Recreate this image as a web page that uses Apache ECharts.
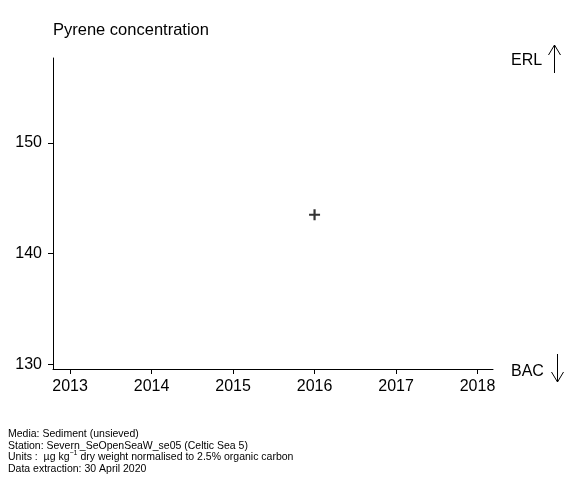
<!DOCTYPE html>
<html><head><meta charset="utf-8">
<script src="https://cdn.jsdelivr.net/npm/echarts@6/dist/echarts.min.js"></script>
<style>html,body{margin:0;padding:0;background:#fff}#c{width:580px;height:480px}</style>
</head><body><div id="c"></div>
<script>
const years = [2016];
const values = [143.5];
const xTicks = [2013, 2014, 2015, 2016, 2017, 2018];
const yTicks = [130, 140, 150];
const title = 'Pyrene concentration';
const footer = ['Media: Sediment (unsieved)', 'Station: Severn_SeOpenSeaW_se05 (Celtic Sea 5)', 'Data extraction: 30 April 2020'];

const chart = echarts.init(document.getElementById('c'), null, {renderer: 'canvas'});
const F = 'Liberation Sans, Arial, sans-serif';
const FF = '10.5px ' + F;
chart.setOption({
  animation: false,
  title: {text: title, left: 53, top: 22, padding: 0, textStyle: {fontFamily: F, fontSize: 16.5, fontWeight: 'normal', color: '#000'}},
  grid: {left: 53, right: 87, top: 58, bottom: 111, containLabel: false},
  xAxis: {
    type: 'value', min: 2012.79, max: 2018.19, interval: 1,
    axisLine: {show: true, onZero: false, lineStyle: {color: '#000', width: 1}},
    axisTick: {show: true, length: 5, lineStyle: {color: '#000'}, customValues: xTicks},
    axisLabel: {color: '#000', fontFamily: F, fontSize: 16, margin: 10, customValues: xTicks, formatter: v => String(v)},
    splitLine: {show: false}
  },
  yAxis: {
    type: 'value', min: 129.58, max: 157.65,
    axisLine: {show: true, onZero: false, lineStyle: {color: '#000', width: 1}},
    axisTick: {show: true, length: 5, lineStyle: {color: '#000'}, customValues: yTicks},
    axisLabel: {color: '#000', fontFamily: F, fontSize: 16, margin: 11, customValues: yTicks, formatter: v => String(v)},
    splitLine: {show: false}
  },
  series: [{
    type: 'scatter',
    data: years.map((y, i) => [y, values[i]]),
    symbol: 'path://M4,0 L6,0 L6,4 L10,4 L10,6 L6,6 L6,10 L4,10 L4,6 L0,6 L0,4 L4,4 Z',
    symbolSize: 11,
    itemStyle: {color: '#000'}
  }],
  graphic: [
    {type: 'text', left: 511, top: 53, style: {text: 'ERL', font: '16px ' + F, fill: '#000'}},
    {type: 'line', shape: {x1: 554.5, y1: 45, x2: 554.5, y2: 73}, style: {stroke: '#000', lineWidth: 1}},
    {type: 'polyline', shape: {points: [[548.5, 55], [554.5, 45], [560.5, 55]]}, style: {stroke: '#000', lineWidth: 1, fill: null}},
    {type: 'text', left: 511, top: 364, style: {text: 'BAC', font: '16px ' + F, fill: '#000'}},
    {type: 'line', shape: {x1: 557.5, y1: 354, x2: 557.5, y2: 382}, style: {stroke: '#000', lineWidth: 1}},
    {type: 'polyline', shape: {points: [[551.5, 372], [557.5, 382], [563.5, 372]]}, style: {stroke: '#000', lineWidth: 1, fill: null}},
    {type: 'text', left: 8, top: 429, style: {text: footer[0], font: FF, fill: '#000'}},
    {type: 'text', left: 8, top: 441, style: {text: footer[1], font: FF, fill: '#000'}},
    {type: 'text', left: 8, top: 450, style: {
      text: '{a|Units :  µg kg}{s|−1}{a| dry weight normalised to 2.5% organic carbon}',
      rich: {a: {font: FF, fill: '#000', verticalAlign: 'bottom'}, s: {font: '7px ' + F, fill: '#000', verticalAlign: 'top', padding: [0, 0, 6, 0]}}
    }},
    {type: 'text', left: 8, top: 464, style: {text: footer[2], font: FF, fill: '#000'}}
  ]
});
</script></body></html>
